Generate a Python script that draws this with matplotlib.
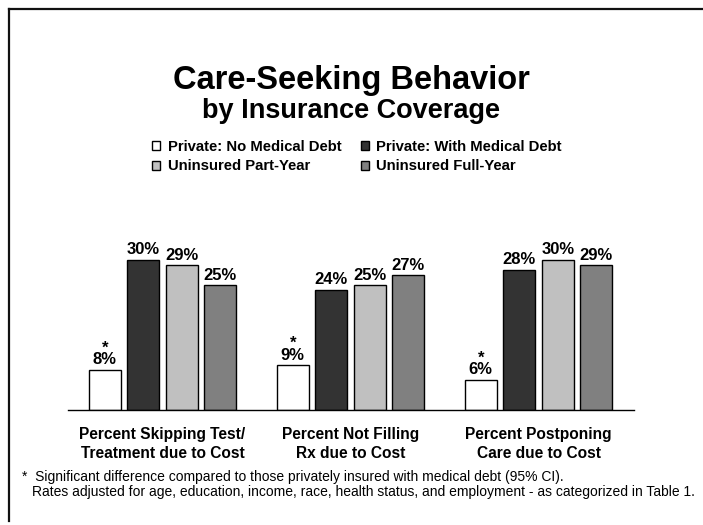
import numpy as np
import matplotlib.pyplot as plt
from matplotlib.lines import Line2D

plt.rcParams['font.family'] = ['Liberation Sans', 'DejaVu Sans']

categories = ["Percent Skipping Test/\nTreatment due to Cost",
              "Percent Not Filling\nRx due to Cost",
              "Percent Postponing\nCare due to Cost"]
series_names = ["Private: No Medical Debt", "Private: With Medical Debt",
                "Uninsured Part-Year", "Uninsured Full-Year"]
no_debt = [8, 9, 6]
with_debt = [30, 24, 28]
part_year = [29, 25, 30]
full_year = [25, 27, 29]
significant = [True, True, True]  # asterisk on the no-debt bar

colors = ["#ffffff", "#333333", "#c0c0c0", "#808080"]

fig = plt.figure(figsize=(7.03, 5.25), dpi=100)
ax = fig.add_axes([68 / 703, 115 / 525, 566 / 703, 175 / 525])

x = np.arange(len(categories))
step = 0.205
width = 0.17
bars = []
for i, (vals, col) in enumerate(zip([no_debt, with_debt, part_year, full_year], colors)):
    off = (i - 1.5) * step
    b = ax.bar(x + off, vals, width, color=col, edgecolor="black", linewidth=1.0,
               label=series_names[i], zorder=2)
    bars.append(b)
    for j, v in enumerate(vals):
        label = f"{v}%"
        if i == 0 and significant[j]:
            # asterisk sits right on top of the value label
            label = "*\n" + label
        ax.text(x[j] + off, v + 0.5, label, ha="center", va="bottom",
                fontsize=12, fontweight="bold", linespacing=0.72)

ax.set_xlim(-0.503, 2.508)
ax.set_ylim(0, 35)
for s in ["top", "right", "left"]:
    ax.spines[s].set_visible(False)
ax.spines["bottom"].set_linewidth(1.0)
ax.set_yticks([])
ax.set_xticks(x)
ax.set_xticklabels(categories, fontsize=11.2, fontweight="bold", linespacing=1.35)
ax.tick_params(axis="x", length=0, pad=12)

fig.text(0.5, 1 - 89 / 525, "Care-Seeking Behavior", ha="center", va="baseline",
         fontsize=23.5, fontweight="bold")
fig.text(0.5, 1 - 118 / 525, "by Insurance Coverage", ha="center", va="baseline",
         fontsize=19.5, fontweight="bold")

order = [0, 2, 1, 3]
leg = fig.legend([bars[k] for k in order], [series_names[k] for k in order],
                 ncol=2, loc="center", bbox_to_anchor=(357 / 703, 1 - 156.5 / 525),
                 frameon=False, handlelength=0.55, handleheight=0.55,
                 handletextpad=0.5, columnspacing=1.3, labelspacing=0.4,
                 prop={"weight": "bold", "size": 10.7})

fig.text(22 / 703, 1 - 477 / 525, "*  Significant difference compared to those privately insured with medical debt (95% CI).",
         ha="left", va="center", fontsize=10)
fig.text(32 / 703, 1 - 492 / 525, "Rates adjusted for age, education, income, race, health status, and employment - as categorized in Table 1.",
         ha="left", va="center", fontsize=10)

# page frame (top and left edges)
fig.add_artist(Line2D([9 / 703, 1.0], [1 - 9 / 525, 1 - 9 / 525], color="#111111", linewidth=1.6))
fig.add_artist(Line2D([9 / 703, 9 / 703], [1 - 9 / 525, 1 - 521 / 525], color="#111111", linewidth=1.6))

fig.savefig("out.png", dpi=100)
